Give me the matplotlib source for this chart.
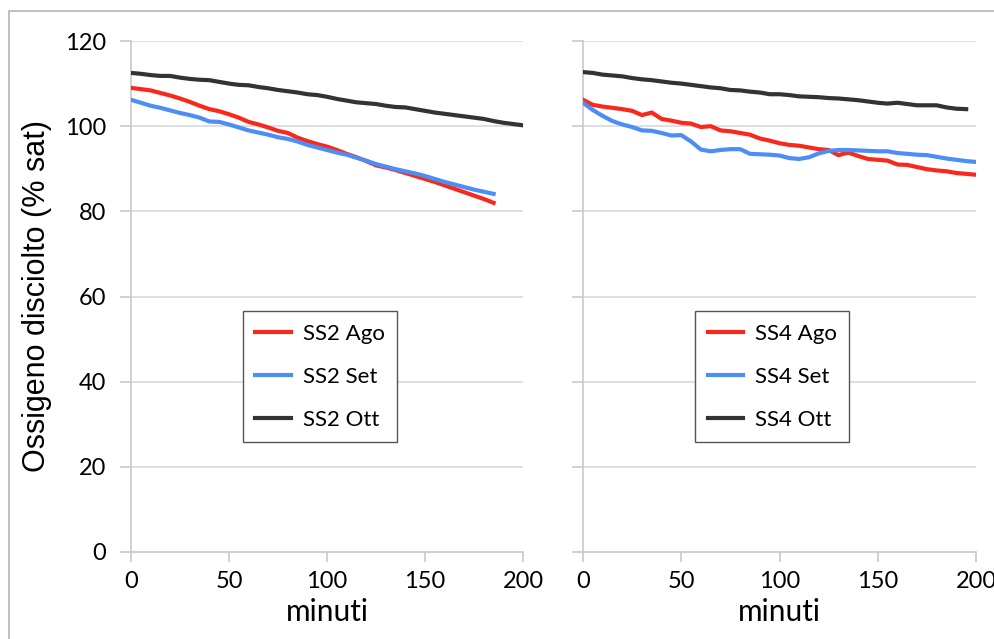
import numpy as np
import matplotlib.pyplot as plt
from matplotlib.patches import Rectangle

# ------------------------------------------------------------
#  Dati
# ------------------------------------------------------------
t_ss2_ago = list(range(0, 186, 5))
ss2_ago = [109.0, 108.7, 108.4, 107.8, 107.2, 106.5, 105.7, 104.8, 104.0, 103.5,
           102.8, 102.0, 101.0, 100.4, 99.7, 98.9, 98.4, 97.3, 96.5, 95.8,
           95.2, 94.4, 93.5, 92.7, 91.8, 90.8, 90.3, 89.7, 89.0, 88.3,
           87.6, 86.9, 86.1, 85.3, 84.5, 83.7, 82.9, 82.0]

t_ss2_set = list(range(0, 186, 5))
ss2_set = [106.2, 105.5, 104.8, 104.3, 103.7, 103.1, 102.6, 102.0, 101.1, 101.0,
           100.4, 99.7, 99.0, 98.5, 98.0, 97.4, 97.0, 96.4, 95.6, 95.0,
           94.4, 93.8, 93.3, 92.6, 91.9, 91.1, 90.5, 89.9, 89.4, 88.9,
           88.3, 87.6, 86.9, 86.3, 85.7, 85.1, 84.6, 84.1]

t_ss2_ott = list(range(0, 201, 5))
ss2_ott = [112.5, 112.3, 112.0, 111.8, 111.8, 111.4, 111.1, 110.9, 110.8, 110.4,
           110.0, 109.7, 109.6, 109.2, 108.9, 108.5, 108.2, 107.9, 107.5, 107.3,
           106.9, 106.4, 106.0, 105.6, 105.4, 105.2, 104.8, 104.5, 104.4, 104.0,
           103.6, 103.2, 102.9, 102.6, 102.3, 102.0, 101.7, 101.2, 100.8, 100.5,
           100.2]

t_ss4_ago = list(range(0, 201, 5))
ss4_ago = [106.2, 105.0, 104.6, 104.3, 104.0, 103.6, 102.6, 103.2, 101.7, 101.3,
           100.8, 100.6, 99.8, 100.0, 99.0, 98.8, 98.4, 98.0, 97.1, 96.6,
           96.0, 95.6, 95.4, 95.0, 94.6, 94.4, 93.2, 93.8, 93.0, 92.3,
           92.1, 91.9, 91.0, 90.9, 90.4, 89.9, 89.6, 89.4, 89.0, 88.8,
           88.6]

t_ss4_set = list(range(0, 201, 5))
ss4_set = [105.5, 103.8, 102.4, 101.2, 100.4, 99.8, 99.0, 98.9, 98.4, 97.8,
           97.9, 96.4, 94.5, 94.1, 94.4, 94.6, 94.6, 93.5, 93.4, 93.3,
           93.1, 92.5, 92.3, 92.7, 93.6, 94.2, 94.4, 94.4, 94.3, 94.2,
           94.1, 94.1, 93.7, 93.5, 93.3, 93.2, 92.8, 92.4, 92.1, 91.8,
           91.6]

t_ss4_ott = list(range(0, 196, 5))
ss4_ott = [112.7, 112.5, 112.1, 111.9, 111.7, 111.3, 111.0, 110.8, 110.5, 110.2,
           110.0, 109.7, 109.4, 109.1, 108.9, 108.5, 108.4, 108.1, 107.9, 107.5,
           107.5, 107.3, 107.0, 106.9, 106.8, 106.6, 106.5, 106.3, 106.1, 105.8,
           105.5, 105.3, 105.5, 105.2, 104.9, 104.9, 104.9, 104.4, 104.1, 104.0]

yticks = [0, 20, 40, 60, 80, 100, 120]
xticks = [0, 50, 100, 150, 200]

# ------------------------------------------------------------
#  Stile
# ------------------------------------------------------------
plt.rcParams.update({
    "font.family": "Lato",
    "font.size": 15,
})

RED = "#f8291c"
BLUE = "#4d8df6"
BLACK = "#333333"
GRID = "#d9d9d9"
AXIS = "#c8c8c8"

fig = plt.figure(figsize=(9.94, 6.39), dpi=100)

# cornice grigia attorno alla figura
fig.patches.append(Rectangle((9 / 994, -0.1), 1.2, 1 - 11 / 639 + 0.1,
                             transform=fig.transFigure, fill=False,
                             edgecolor="#b4b4b4", linewidth=1.2))

ax1 = fig.add_axes([131 / 994, 1 - 552 / 639, 392 / 994, 511 / 639])
ax2 = fig.add_axes([583 / 994, 1 - 552 / 639, 393 / 994, 511 / 639])

pannelli = [
    (ax1, [(t_ss2_ago, ss2_ago, RED, "SS2 Ago"),
           (t_ss2_set, ss2_set, BLUE, "SS2 Set"),
           (t_ss2_ott, ss2_ott, BLACK, "SS2 Ott")]),
    (ax2, [(t_ss4_ago, ss4_ago, RED, "SS4 Ago"),
           (t_ss4_set, ss4_set, BLUE, "SS4 Set"),
           (t_ss4_ott, ss4_ott, BLACK, "SS4 Ott")]),
]

for ax, serie in pannelli:
    for t, v, col, lab in serie:
        ax.plot(t, v, color=col, linewidth=3.0, label=lab, zorder=3,
                solid_joinstyle="round")

    ax.set_xlim(0, 200)
    ax.set_ylim(0, 120)
    ax.set_xticks(xticks)
    ax.set_yticks(yticks)
    for y in yticks[1:]:
        ax.axhline(y, color=GRID, linewidth=1.2, zorder=1)

    for s in ("top", "right"):
        ax.spines[s].set_visible(False)
    for s in ("left", "bottom"):
        ax.spines[s].set_color(AXIS)
        ax.spines[s].set_linewidth(1.2)
    ax.tick_params(axis="both", direction="out", length=8, width=1.2,
                   color=AXIS, labelsize=17)
    ax.tick_params(axis="x", pad=7, length=7)
    ax.tick_params(axis="y", pad=10)
    ax.set_xlabel("minuti", fontsize=21.5, labelpad=4)

    leg = ax.legend(loc="upper left", bbox_to_anchor=(0.286, 0.471),
                    borderaxespad=0, frameon=True, fancybox=False,
                    edgecolor="#555555", framealpha=1.0, fontsize=16,
                    handlelength=1.6, handletextpad=0.55, labelspacing=1.05,
                    borderpad=0.55)
    leg.get_frame().set_linewidth(1.0)
    for h in leg.get_lines():
        h.set_linewidth(3.0)

ax2.tick_params(axis="y", labelleft=False)
ax1.set_ylabel("Ossigeno disciolto (% sat)", fontsize=22, labelpad=9,
               family="Liberation Sans")

fig.savefig("out.png", dpi=100)
